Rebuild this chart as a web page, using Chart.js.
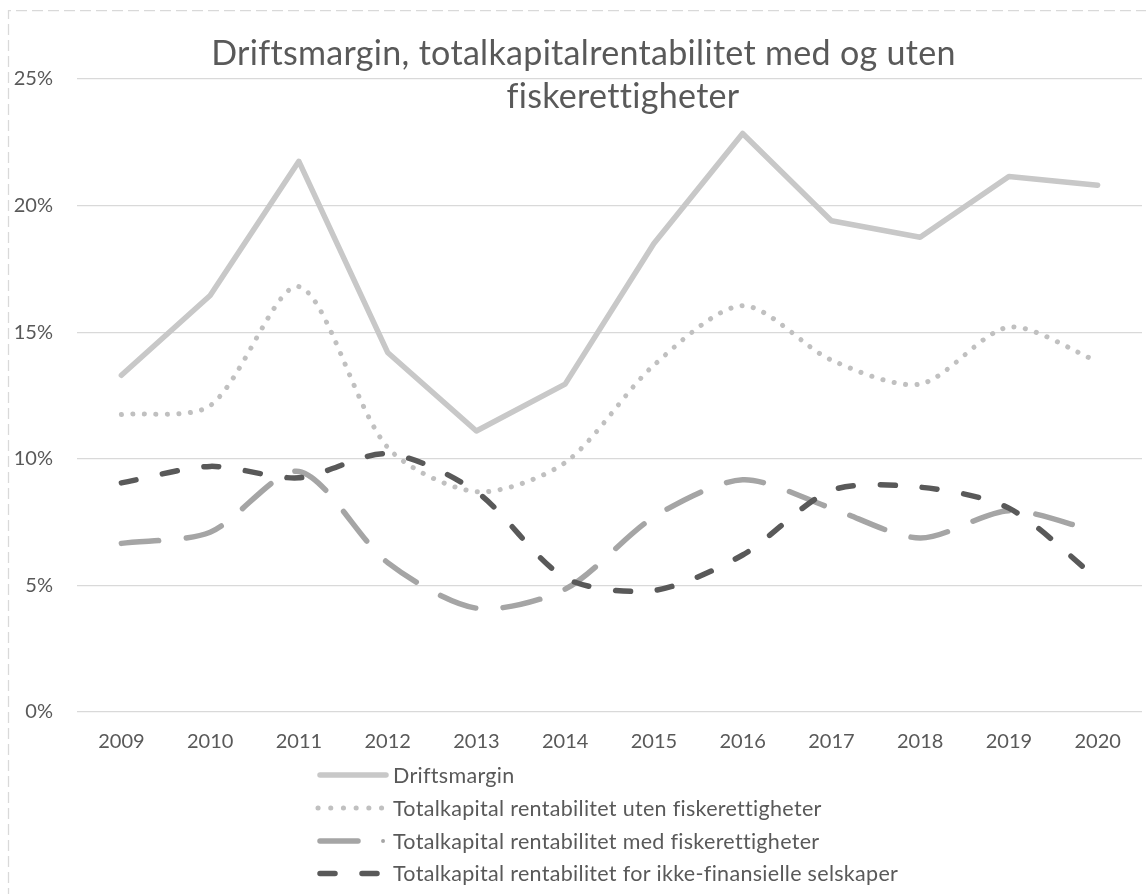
<!DOCTYPE html>
<html>
<head>
<meta charset="utf-8">
<script src="https://cdn.jsdelivr.net/npm/chart.js@4.4.1/dist/chart.umd.min.js"></script>
<style>
html,body{margin:0;padding:0;background:#fff;overflow:hidden}
#wrap{position:relative;width:1146px;height:894px}
canvas{display:block}
</style>
</head>
<body>
<div id="wrap"><canvas id="c" width="1146" height="894"></canvas></div>
<script>
// ---- data ----
const years = ['2009','2010','2011','2012','2013','2014','2015','2016','2017','2018','2019','2020'];
const driftsmargin = [13.3, 16.45, 21.75, 14.2, 11.1, 12.95, 18.5, 22.85, 19.4, 18.75, 21.15, 20.8];
const utenFisk     = [11.75, 12.1, 16.8, 10.45, 8.7, 9.85, 13.7, 16.05, 13.9, 12.95, 15.2, 13.85];
const medFisk      = [6.66, 7.1, 9.5, 5.9, 4.1, 4.85, 7.7, 9.17, 8.05, 6.87, 7.95, 7.12];
const ikkeFin      = [9.05, 9.7, 9.25, 10.2, 8.7, 5.3, 4.8, 6.2, 8.75, 8.88, 8.05, 5.25];
const seriesNames  = [
  'Driftsmargin',
  'Totalkapital rentabilitet uten fiskerettigheter',
  'Totalkapital rentabilitet med fiskerettigheter',
  'Totalkapital rentabilitet for ikke-finansielle selskaper'
];
const titleLines = ['Driftsmargin, totalkapitalrentabilitet med og uten', 'fiskerettigheter'];
const yTickValues = [0, 5, 10, 15, 20, 25];

// ---- fonts ----
const FAMILY = 'Lato, "Open Sans", sans-serif';
const TEXT = '#595959';
const SPACING = '0.3px'; // non-zero spacing keeps "fi"/"tt" as separate letters
function fitSize(text, target) {
  const c = document.createElement('canvas').getContext('2d');
  c.font = '100px ' + FAMILY;
  return 100 * target / c.measureText(text).width;
}
const titleSize  = fitSize(titleLines[0], 729);
const tickSize   = fitSize('2009', 46.5);
const legendSize = fitSize(seriesNames[3], 488);

// ---- plugins ----
const frame = {
  id: 'frame',
  beforeDraw(chart) {
    const ctx = chart.ctx;
    ctx.save();
    ctx.fillStyle = '#ffffff';
    ctx.fillRect(0, 0, chart.width, chart.height);
    ctx.strokeStyle = '#d9d9d9';
    ctx.lineWidth = 1.25;
    ctx.setLineDash([11, 5]);
    ctx.beginPath();
    ctx.moveTo(8.5, chart.height + 5);
    ctx.lineTo(8.5, 10.5);
    ctx.lineTo(chart.width + 5, 10.5);
    ctx.stroke();
    ctx.restore();
  }
};

const titleAndLegend = {
  id: 'titleAndLegend',
  afterDraw(chart) {
    const ctx = chart.ctx;
    ctx.save();
    if ('letterSpacing' in ctx) ctx.letterSpacing = SPACING;
    ctx.fillStyle = TEXT;
    ctx.font = titleSize.toFixed(2) + 'px ' + FAMILY;
    ctx.textAlign = 'center';
    ctx.textBaseline = 'alphabetic';
    ctx.fillText(titleLines[0], 583.5, 65);
    ctx.fillText(titleLines[1], 623, 108);

    // legend
    const rowsY = [775, 808, 841, 873.5];
    ctx.font = legendSize.toFixed(2) + 'px ' + FAMILY;
    ctx.textAlign = 'left';
    ctx.textBaseline = 'middle';
    chart.data.datasets.forEach((ds, i) => {
      const y = rowsY[i];
      ctx.save();
      ctx.strokeStyle = ds.borderColor;
      ctx.lineWidth = ds.borderWidth;
      ctx.lineCap = 'round';
      if (ds.legendStyle === 'solid') {
        ctx.setLineDash([]);
        ctx.beginPath(); ctx.moveTo(320, y); ctx.lineTo(386, y); ctx.stroke();
      } else if (ds.legendStyle === 'dots') {
        ctx.setLineDash([0.1, 12.6]);
        ctx.beginPath(); ctx.moveTo(318, y); ctx.lineTo(383, y); ctx.stroke();
      } else if (ds.legendStyle === 'dashdot') {
        ctx.setLineDash([]);
        ctx.beginPath(); ctx.moveTo(320, y); ctx.lineTo(358, y); ctx.stroke();
        ctx.lineWidth = ds.borderWidth * 0.7;
        ctx.beginPath(); ctx.moveTo(383, y); ctx.lineTo(383.1, y); ctx.stroke();
      } else {
        ctx.setLineDash(ds.borderDash);
        ctx.beginPath(); ctx.moveTo(320, y); ctx.lineTo(385, y); ctx.stroke();
      }
      ctx.restore();
      ctx.fillStyle = TEXT;
      ctx.fillText(ds.label, 393, y + 1);
    });
    ctx.restore();
  }
};

// ---- chart ----
new Chart(document.getElementById('c'), {
  type: 'line',
  data: {
    labels: years,
    datasets: [
      { label: seriesNames[0], data: driftsmargin, borderColor: '#c8c8c8', borderWidth: 5.5,
        tension: 0, order: 3, legendStyle: 'solid' },
      { label: seriesNames[1], data: utenFisk, borderColor: '#c0c0c0', borderWidth: 5,
        borderDash: [0.1, 11.4], tension: 0.28, order: 2, legendStyle: 'dots' },
      { label: seriesNames[2], data: medFisk, borderColor: '#a5a5a5', borderWidth: 5.5,
        borderDash: [37.5, 27.5], tension: 0.28, order: 1, legendStyle: 'dashdot' },
      { label: seriesNames[3], data: ikkeFin, borderColor: '#595959', borderWidth: 5.5,
        borderDash: [15, 27], tension: 0.28, order: 0, legendStyle: 'dash' }
    ].map(d => Object.assign({
      pointRadius: 0, pointHoverRadius: 0, fill: false,
      borderCapStyle: 'round', borderJoinStyle: 'round'
    }, d))
  },
  options: {
    responsive: false,
    devicePixelRatio: 1,
    animation: false,
    events: [],
    layout: { padding: { top: 79, right: 4, bottom: 142, left: 0 } },
    plugins: {
      legend: { display: false },
      title: { display: false },
      tooltip: { enabled: false }
    },
    scales: {
      x: {
        type: 'category',
        offset: true,
        grid: { display: false, drawTicks: false },
        border: { display: false },
        ticks: { color: TEXT, font: { family: FAMILY, size: tickSize }, padding: 18, maxRotation: 0, autoSkip: false },
        afterFit(s) { s.height = 40; }
      },
      y: {
        type: 'linear',
        min: 0,
        max: 25,
        afterBuildTicks(s) { s.ticks = yTickValues.map(v => ({ value: v })); },
        grid: { color: '#d9d9d9', lineWidth: 1.25, drawTicks: false },
        border: { display: false },
        ticks: { color: TEXT, font: { family: FAMILY, size: tickSize }, padding: 24,
                 callback: v => v + '%' },
        afterFit(s) { s.width = 77; }
      }
    }
  },
  plugins: [frame, titleAndLegend]
});
</script>
</body>
</html>
